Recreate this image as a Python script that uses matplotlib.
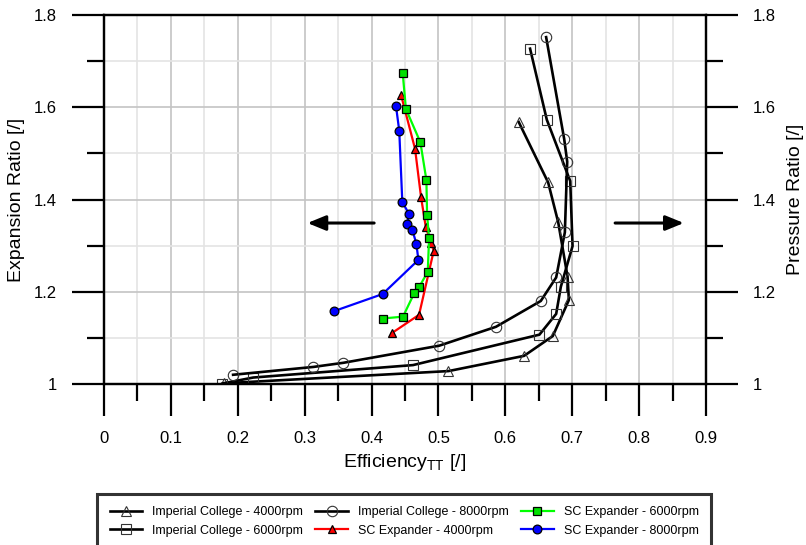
import matplotlib
matplotlib.use("Agg")
import matplotlib.pyplot as plt
from matplotlib.ticker import MultipleLocator

plt.rcParams['font.family'] = ['Liberation Sans', 'DejaVu Sans']

# Imperial College data
ic4000_eff = [0.620, 0.664, 0.679, 0.693, 0.695, 0.671, 0.628, 0.515, 0.179]
ic4000_pr = [1.568, 1.437, 1.351, 1.233, 1.182, 1.104, 1.061, 1.028, 1.0015]
ic6000_eff = [0.637, 0.662, 0.697, 0.7005, 0.683, 0.676, 0.651, 0.462, 0.223, 0.177]
ic6000_pr = [1.727, 1.573, 1.440, 1.299, 1.211, 1.152, 1.107, 1.041, 1.014, 1.001]
ic8000_eff = [0.661, 0.688, 0.6925, 0.689, 0.676, 0.653, 0.586, 0.501, 0.358, 0.313, 0.193]
ic8000_pr = [1.752, 1.531, 1.482, 1.329, 1.231, 1.180, 1.124, 1.083, 1.046, 1.037, 1.020]

# SC Expander data
sc4000_eff = [0.444, 0.465, 0.474, 0.481, 0.489, 0.493, 0.471, 0.430]
sc4000_er = [1.627, 1.510, 1.405, 1.341, 1.305, 1.289, 1.150, 1.110]
sc6000_eff = [0.4465, 0.4514, 0.473, 0.482, 0.483, 0.486, 0.484, 0.471, 0.4638, 0.447, 0.4165]
sc6000_er = [1.675, 1.596, 1.524, 1.442, 1.367, 1.316, 1.243, 1.210, 1.197, 1.146, 1.142]
sc8000_eff = [0.4365, 0.4414, 0.446, 0.456, 0.453, 0.461, 0.467, 0.470, 0.4165, 0.344]
sc8000_er = [1.603, 1.549, 1.394, 1.369, 1.347, 1.334, 1.304, 1.269, 1.195, 1.158]

x_ticks = [0.0, 0.1, 0.2, 0.3, 0.4, 0.5, 0.6, 0.7, 0.8, 0.9]
x_tick_labels = ['0', '0.1', '0.2', '0.3', '0.4', '0.5', '0.6', '0.7', '0.8', '0.9']
y_ticks = [1.0, 1.2, 1.4, 1.6, 1.8]
y_tick_labels = ['1', '1.2', '1.4', '1.6', '1.8']

labels = ["Imperial College - 4000rpm", "Imperial College - 6000rpm",
          "Imperial College - 8000rpm", "SC Expander - 4000rpm",
          "SC Expander - 6000rpm", "SC Expander - 8000rpm"]

fig = plt.figure(figsize=(8.06, 5.45), dpi=100)
ax = fig.add_axes([104/806, (545-384)/545, (706-104)/806, (384-15)/545])

ax.set_xlim(0, 0.9)
ax.set_ylim(1, 1.8)

ax.set_xticks(x_ticks)
ax.set_xticklabels(x_tick_labels)
ax.xaxis.set_minor_locator(MultipleLocator(0.05))
ax.set_yticks(y_ticks)
ax.set_yticklabels(y_tick_labels)
ax.yaxis.set_minor_locator(MultipleLocator(0.1))

ax.grid(which='major', color='#c4c4c4', lw=1.2, zorder=0)
ax.grid(which='minor', color='#e4e4e4', lw=1.2, zorder=0)
ax.set_axisbelow(True)

ic_kw = dict(color='black', lw=1.9, markersize=7.5, markerfacecolor='none',
             markeredgecolor='#333333', markeredgewidth=0.8)
h1, = ax.plot(ic4000_eff, ic4000_pr, marker='^', **ic_kw)
h2, = ax.plot(ic6000_eff, ic6000_pr, marker='s', **ic_kw)
h3, = ax.plot(ic8000_eff, ic8000_pr, marker='o', **ic_kw)

sc_kw = dict(lw=1.6, markersize=6.3, markeredgecolor='black', markeredgewidth=0.9)
h4, = ax.plot(sc4000_eff, sc4000_er, marker='^', color='#ff0000', markerfacecolor='#ff0000', **sc_kw)
h5, = ax.plot(sc6000_eff, sc6000_er, marker='s', color='#00ff00', markerfacecolor='#00e000', **sc_kw)
h6, = ax.plot(sc8000_eff, sc8000_er, marker='o', color='#0000ff', markerfacecolor='#0000ff', **sc_kw)

# arrows
ax.annotate('', xy=(0.300, 1.349), xytext=(0.408, 1.349),
            arrowprops=dict(arrowstyle='-|>,head_length=1.1,head_width=0.45', color='black', lw=2.2))
ax.annotate('', xy=(0.871, 1.349), xytext=(0.760, 1.349),
            arrowprops=dict(arrowstyle='-|>,head_length=1.1,head_width=0.45', color='black', lw=2.2))

for s in ax.spines.values():
    s.set_linewidth(1.6)
    s.set_color('black')

ax.tick_params(which='major', direction='out', length=23, width=1.6, labelsize=12, pad=11)
ax.tick_params(which='minor', direction='out', length=12, width=1.6)

ax2 = ax.twinx()
ax2.set_ylim(1, 1.8)
ax2.set_yticks(y_ticks)
ax2.set_yticklabels(y_tick_labels)
ax2.yaxis.set_minor_locator(MultipleLocator(0.1))
ax2.tick_params(which='major', direction='out', length=23, width=1.6, labelsize=12, pad=11)
ax2.tick_params(which='minor', direction='out', length=12, width=1.6)
for s in ax2.spines.values():
    s.set_linewidth(1.6)

ax.set_xlabel(r'Efficiency$_{\mathregular{TT}}$ [/]', fontsize=14, labelpad=4)
ax.set_ylabel('Expansion Ratio [/]', fontsize=14, labelpad=6)
ax2.set_ylabel('Pressure Ratio [/]', fontsize=14, labelpad=8)

leg = fig.legend([h1, h2, h3, h4, h5, h6], labels, ncol=3, loc='upper left',
                 bbox_to_anchor=(97/806, 1 - 494/545), fontsize=9,
                 frameon=True, fancybox=False, edgecolor='black',
                 handlelength=2.6, columnspacing=1.0, handletextpad=0.8,
                 borderpad=1.0, labelspacing=0.5, borderaxespad=0)
leg.get_frame().set_linewidth(2.2)

fig.savefig('out.png', dpi=100)
